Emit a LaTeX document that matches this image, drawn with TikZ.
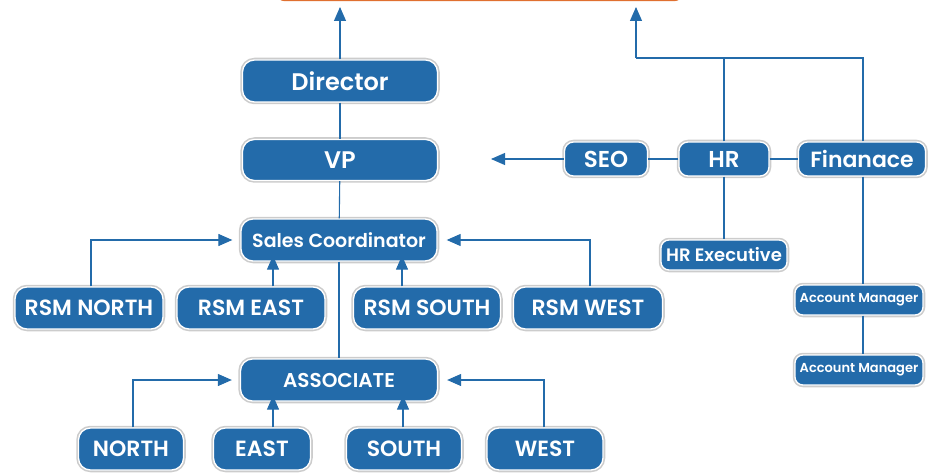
\documentclass[tikz,border=0pt]{standalone}
\usepackage{fontspec}
\setmainfont{Poppins}[BoldFont={* SemiBold}]
\usetikzlibrary{arrows.meta}
\definecolor{boxblue}{RGB}{35,107,170}
\definecolor{topor}{RGB}{224,112,48}
\tikzset{
  box/.style={draw=white, line width=1.3pt, fill=boxblue, text=white, font=\bfseries,
    rounded corners=#1, inner sep=0pt, align=center,
    preaction={draw=black!20, line width=4.5pt}},
  box/.default=12pt,
  conn/.style={draw=boxblue, line width=1.1pt},
  arr/.style={conn, -{Triangle[length=14pt,width=12pt]}},
  fs/.style={font=\bfseries\fontsize{#1}{#1}\selectfont},
}
\begin{document}
\begin{tikzpicture}[x=1pt,y=-1pt]
\useasboundingbox (0,0) rectangle (932,476);
\begin{scope}
\clip (0,0) rectangle (932,476);
\draw[topor, line width=2.5pt, rounded corners=8pt] (277,-40) rectangle (682,0);
\end{scope}
% top arrow targets
\coordinate (t1) at (340,7);
\coordinate (t2) at (636,7);
\coordinate (seoT) at (491,159);
% nodes
\node[box, minimum width=195pt, minimum height=42pt, fs=24] (dir) at (340,81) {Director};
\node[box, minimum width=195pt, minimum height=41pt, fs=24] (vp) at (340,160) {VP};
\node[box, minimum width=196pt, minimum height=42pt, fs=19] (sc) at (339,240) {Sales Coordinator};
\node[box, minimum width=148pt, minimum height=42pt, fs=22] (rn) at (89,308) {RSM NORTH};
\node[box, minimum width=148pt, minimum height=42pt, fs=22] (re) at (251,308) {RSM EAST};
\node[box, minimum width=147pt, minimum height=42pt, fs=22] (rs) at (427,308) {RSM SOUTH};
\node[box, minimum width=149pt, minimum height=42pt, fs=22] (rw) at (588,308) {RSM WEST};
\node[box, minimum width=197pt, minimum height=42pt, fs=20] (as) at (339,380) {ASSOCIATE};
\node[box, minimum width=105pt, minimum height=42pt, fs=22] (no) at (131,449) {NORTH};
\node[box, minimum width=97pt, minimum height=42pt, fs=22] (ea) at (262,449) {EAST};
\node[box, minimum width=115pt, minimum height=42pt, fs=22] (so) at (404,449) {SOUTH};
\node[box, minimum width=116pt, minimum height=42pt, fs=22] (we) at (545,449) {WEST};
\node[box=9pt, minimum width=83pt, minimum height=34pt, fs=23] (seo) at (606,159) {SEO};
\node[box=9pt, minimum width=90pt, minimum height=34pt, fs=23] (hr) at (724,159) {HR};
\node[box=9pt, minimum width=127pt, minimum height=34pt, fs=22] (fin) at (862,159) {Finanace};
\node[box=8pt, minimum width=126pt, minimum height=30pt, fs=18] (hre) at (724,255) {HR Executive};
\node[box=8pt, minimum width=128pt, minimum height=30pt, fs=13] (am1) at (859,300) {Account Manager};
\node[box=8pt, minimum width=128pt, minimum height=30pt, fs=13] (am2) at (859,370) {Account Manager};
% connectors
\draw[arr] (dir.north) -- (t1);
\draw[conn] (dir) -- (vp);
\draw[conn] (vp) -- (sc);
\draw[conn] (sc) -- (as);
\draw[arr] (rn.north -| 91,0) |- ([xshift=-8pt]sc.west);
\draw[arr] (re.north -| 273,0) -- ([yshift=6pt]sc.south -| 273,0);
\draw[arr] (rs.north -| 402,0) -- ([yshift=6pt]sc.south -| 402,0);
\draw[arr] (rw.north -| 590,0) |- ([xshift=9pt]sc.east);
\draw[arr] (no.north -| 133,0) |- ([xshift=-8pt]as.west);
\draw[arr] (ea.north -| 273,0) -- ([yshift=6pt]as.south -| 273,0);
\draw[arr] (so.north -| 403,0) -- ([yshift=6pt]as.south -| 403,0);
\draw[arr] (we.north -| 544,0) |- ([xshift=9pt]as.east);
\draw[conn] (hr) -- (seo);
\draw[arr] (seo.west) -- (seoT);
\draw[conn] (hr) -- (fin);
\coordinate (j) at (636,58);
\draw[conn] (hr.north) -- (hr.north |- j);
\draw[conn] (fin.north -| 863,0) |- (j);
\draw[arr] (j) -- (t2);
\draw[conn] (hr) -- (hre);
\draw[conn] (fin.south -| 863,0) -- (am1.north -| 863,0);
\draw[conn] (am1.south -| 863,0) -- (am2.north -| 863,0);
\end{tikzpicture}
\end{document}
